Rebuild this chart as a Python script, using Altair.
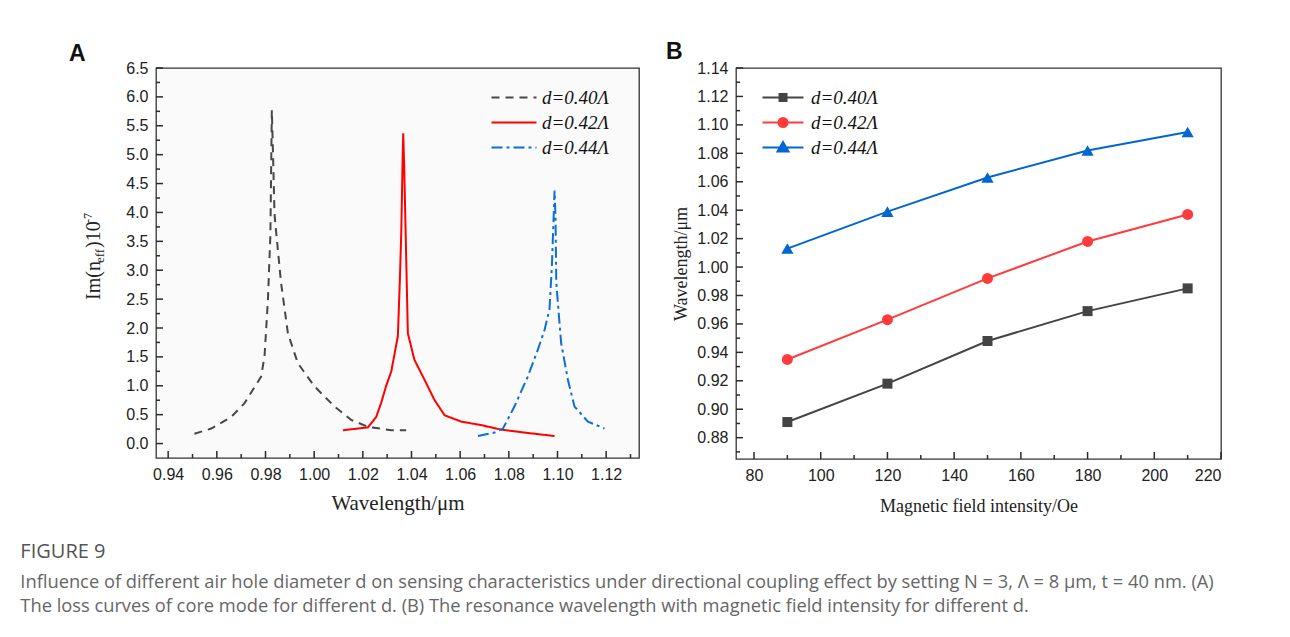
import altair as alt
import pandas as pd

SERIF = "Liberation Serif"
SANS = "Liberation Sans"
CAP = "Open Sans"

labels = ["d=0.40Λ", "d=0.42Λ", "d=0.44Λ"]

# ---------------- Panel A data (loss curves) ----------------
a040_x = [0.9508, 0.9577, 0.9659, 0.9714, 0.9782, 0.9796, 0.9810, 0.9820, 0.9826, 0.9831, 0.9837,
          0.9844, 0.9864, 0.9892, 0.9933, 1.0001, 1.0084, 1.0152, 1.0221, 1.0317, 1.0378]
a040_y = [0.17, 0.26, 0.46, 0.70, 1.16, 1.51, 2.49, 3.60, 5.77, 5.00, 3.97,
          3.65, 2.78, 1.91, 1.39, 0.99, 0.64, 0.41, 0.29, 0.23, 0.23]
a042_x = [1.0118, 1.0221, 1.0255, 1.0275, 1.0296, 1.0317, 1.0344, 1.0352, 1.0358, 1.0363, 1.0366,
          1.0370, 1.0376, 1.0385, 1.0412, 1.0454, 1.0495, 1.0536, 1.0604, 1.0686, 1.0769, 1.0864, 1.0988]
a042_y = [0.23, 0.28, 0.46, 0.70, 1.00, 1.25, 1.86, 2.80, 3.65, 4.80, 5.37,
          4.80, 3.65, 1.91, 1.45, 1.10, 0.75, 0.49, 0.38, 0.32, 0.24, 0.19, 0.13]
a044_x = [1.0673, 1.0741, 1.0776, 1.0823, 1.0878, 1.0919, 1.0947, 1.0967, 1.0977, 1.0984, 1.0988,
          1.0992, 1.0995, 1.1015, 1.1043, 1.1070, 1.1125, 1.1193]
a044_y = [0.13, 0.19, 0.26, 0.64, 1.16, 1.62, 1.97, 2.32, 3.07, 3.90, 4.38,
          3.90, 2.78, 1.74, 1.10, 0.64, 0.38, 0.26]

# ---------------- Panel B data (resonance wavelength) ----------------
b_field = [90, 120, 150, 180, 210]
b040 = [0.891, 0.918, 0.948, 0.969, 0.985]
b042 = [0.935, 0.963, 0.992, 1.018, 1.037]
b044 = [1.013, 1.039, 1.063, 1.082, 1.095]

# tick values
A_xmajor = [0.94, 0.96, 0.98, 1.00, 1.02, 1.04, 1.06, 1.08, 1.10, 1.12]
A_xminor = [0.95, 0.97, 0.99, 1.01, 1.03, 1.05, 1.07, 1.09, 1.11, 1.13]
A_ymajor = [round(0.5 * i, 1) for i in range(14)]
A_yminor = [round(0.25 + 0.5 * i, 2) for i in range(13)]
B_xmajor = [80, 100, 120, 140, 160, 180, 200, 220]
B_xminor = [90, 110, 130, 150, 170, 190, 210]
B_ymajor = [round(0.88 + 0.02 * i, 2) for i in range(14)]
B_yminor = [round(0.87 + 0.02 * i, 2) for i in range(14)]

caption_title = "FIGURE 9"
caption_lines = [
    "Influence of different air hole diameter d on sensing characteristics under directional coupling effect by setting N = 3, Λ = 8 μm, t = 40 nm. (A)",
    "The loss curves of core mode for different d. (B) The resonance wavelength with magnetic field intensity for different d.",
]

rowsA = []
for lab, xs, ys in zip(labels, [a040_x, a042_x, a044_x], [a040_y, a042_y, a044_y]):
    for i, (x, y) in enumerate(zip(xs, ys)):
        rowsA.append({"series": lab, "x": x, "y": y, "i": i})
dfA = pd.DataFrame(rowsA)

rowsB = []
for lab, ys in zip(labels, [b040, b042, b044]):
    for x, y in zip(b_field, ys):
        rowsB.append({"series": lab, "x": x, "y": y})
dfB = pd.DataFrame(rowsB)

WA, HA = 483, 390
WB, HB = 485, 391

colA = ["#474747", "#ff0000", "#0b6fd9"]
dashA = [[8, 6], [1, 0], [11, 4, 3, 4]]
colB = ["#444444", "#ff3b3b", "#0066d1"]
TICK = "#2a2a2a"


def label_axis(orient, values, fmt, title_size=18, title_pad=10):
    return alt.Axis(orient=orient, values=values, format=fmt, ticks=False, tickSize=0, domain=False,
                    grid=False, labelPadding=8, labelFont=SANS, labelFontSize=16, labelColor="#222",
                    labelOverlap=False, titleFont=SERIF, titleFontSize=title_size, titleFontWeight="normal",
                    titleColor="#222", titlePadding=title_pad)


one = alt.Data(values=[{}])


def txt(text, x, y, size, font, weight="normal", angle=0, color="#111"):
    kw = dict(text=text, font=font, fontSize=size, fontWeight=weight, align="left",
              baseline="alphabetic", color=color)
    if angle:
        kw["angle"] = angle
    return alt.Chart(one).mark_text(**kw).encode(x=alt.value(x), y=alt.value(y))


def inner_ticks(xenc, yenc, H, xmaj, xmin, ymaj, ymin):
    """Inward-pointing axis ticks drawn through the panel's own scales."""
    out = []
    for vals, ln in [(xmaj, 7), (xmin, 4)]:
        out.append(alt.Chart(pd.DataFrame({"x": vals})).mark_rule(color=TICK, strokeWidth=1.5)
                   .encode(x=xenc, y=alt.value(H), y2=alt.value(H - ln)))
    for vals, ln in [(ymaj, 7), (ymin, 4)]:
        out.append(alt.Chart(pd.DataFrame({"y": vals})).mark_rule(color=TICK, strokeWidth=1.5)
                   .encode(y=yenc, x=alt.value(0), x2=alt.value(ln)))
    return out


# ---------------- Panel A ----------------
scxA = alt.Scale(domain=[0.935, 1.1335], nice=False, zero=False)
scyA = alt.Scale(domain=[-0.25, 6.5], nice=False, zero=False)

legA = alt.Legend(title=None, orient="none", legendX=332, legendY=20, symbolType="M-1,0H6.5",
                  symbolSize=144, symbolStrokeWidth=2, labelFont=SERIF, labelFontSize=19,
                  labelFontStyle="italic", labelColor="#111", labelOffset=35, rowPadding=5, padding=0)

xA = alt.X("x:Q", scale=scxA, title="Wavelength/μm", axis=label_axis("bottom", A_xmajor, ".2f", 21, 10))
yA = alt.Y("y:Q", scale=scyA, title=None, axis=label_axis("left", A_ymajor, ".1f"))

linesA = alt.Chart(dfA).mark_line(strokeWidth=2).encode(
    x=xA, y=yA,
    color=alt.Color("series:N", scale=alt.Scale(domain=labels, range=colA), legend=legA),
    strokeDash=alt.StrokeDash("series:N", scale=alt.Scale(domain=labels, range=dashA), legend=legA),
    order="i:Q",
)

textsA = [
    txt("A", -87, -7, 23, SANS, "bold"),
    txt("Im(n", -56, 232, 20, SERIF, angle=270, color="#222"),
    txt("eff", -52, 195, 13, SERIF, angle=270, color="#222"),
    txt(")10", -56, 180, 20, SERIF, angle=270, color="#222"),
    txt("-7", -64, 155, 12, SERIF, angle=270, color="#222"),
]

panelA = alt.layer(
    linesA, *inner_ticks(xA, yA, HA, A_xmajor, A_xminor, A_ymajor, A_yminor), *textsA
).properties(width=WA, height=HA)

# ---------------- Panel B ----------------
scxB = alt.Scale(domain=[74.6, 220], nice=False, zero=False)
scyB = alt.Scale(domain=[0.865, 1.14], nice=False, zero=False)
colScaleB = alt.Scale(domain=labels, range=colB)

legB = alt.Legend(title=None, orient="none", legendX=23, legendY=20, symbolSize=144,
                  symbolStrokeWidth=2, labelFont=SERIF, labelFontSize=19, labelFontStyle="italic",
                  labelColor="#111", labelOffset=33, rowPadding=5, padding=0)

xB = alt.X("x:Q", scale=scxB, title="Magnetic field intensity/Oe", axis=label_axis("bottom", B_xmajor, "d", 18, 14))
yB = alt.Y("y:Q", scale=scyB, title="Wavelength/μm", axis=label_axis("left", B_ymajor, ".2f", 18, 6))
cB = alt.Color("series:N", scale=colScaleB, legend=legB)

linesB = alt.Chart(dfB).mark_line(strokeWidth=2).encode(x=xB, y=yB, color=cB)

markersB = []
for lab, shp, sz in zip(labels, ["square", "circle", "triangle-up"], [100, 121, 150]):
    markersB.append(
        alt.Chart(dfB).transform_filter(alt.datum.series == lab)
        .mark_point(shape=shp, size=sz, filled=True, opacity=1)
        .encode(x=xB, y=yB, color=cB)
    )

pathsB = [
    "M-1,0H5.83M1.84,-0.58H3.0V0.58H1.84Z",
    "M-1,0H5.83M3.17,0A0.75,0.75,0,1,1,1.67,0A0.75,0.75,0,1,1,3.17,0Z",
    "M-1,0H5.83M2.42,-0.9L3.33,0.65H1.51Z",
]
legendLayerB = alt.Chart(dfB).transform_filter("datum.x < 0").mark_point(
    filled=True, opacity=1, size=144).encode(
    color=cB,
    shape=alt.Shape("series:N", scale=alt.Scale(domain=labels, range=pathsB), legend=legB),
)

textsB = [txt("B", -70, -9, 23, SANS, "bold")]

panelB = alt.layer(
    linesB, *markersB, legendLayerB,
    *inner_ticks(xB, yB, HB, B_xmajor, B_xminor, B_ymajor, B_yminor), *textsB
).properties(width=WB, height=HB)

chart = alt.hconcat(panelA, panelB, spacing=25).resolve_scale(
    color="independent", strokeDash="independent", shape="independent"
).properties(
    title=alt.TitleParams(
        text=caption_title, subtitle=caption_lines, orient="bottom", anchor="start", frame="bounds",
        dx=-48, offset=26, font=CAP, fontSize=20, fontWeight="normal", color="#555",
        subtitleFont=CAP, subtitleFontSize=18.3, subtitleColor="#666", subtitlePadding=12,
        subtitleLineHeight=24.5,
    )
).configure(
    padding={"left": 12, "top": 32, "right": 5, "bottom": 5}, background="white"
).configure_view(stroke="#333", strokeWidth=1.3, fill="#fafafa")

chart.save("out.html", embed_options={"renderer": "svg", "actions": False})
